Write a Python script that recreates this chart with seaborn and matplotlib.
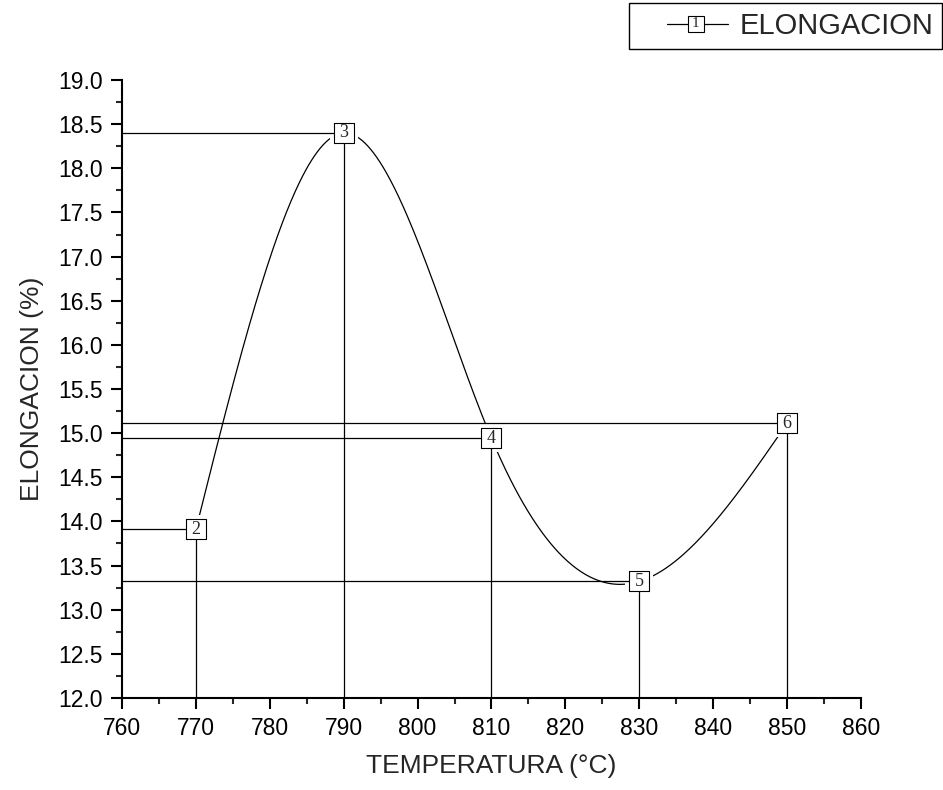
import numpy as np
import pandas as pd
import matplotlib
matplotlib.use('Agg')
import matplotlib.pyplot as plt
from matplotlib.lines import Line2D
from matplotlib.text import Text
from matplotlib.legend_handler import HandlerBase
from matplotlib.ticker import MultipleLocator, FormatStrFormatter
import seaborn as sns

# data
temperatura = [770, 790, 810, 830, 850]
elongacion = [13.91, 18.40, 14.94, 13.32, 15.11]
point_labels = ['2', '3', '4', '5', '6']
legend_label = 'ELONGACION'


def natural_spline(x, y, n=400):
    # natural cubic spline through the points (smooth connect line)
    x = np.asarray(x, float)
    y = np.asarray(y, float)
    k = len(x)
    h = np.diff(x)
    A = np.zeros((k, k))
    b = np.zeros(k)
    A[0, 0] = A[-1, -1] = 1
    for i in range(1, k - 1):
        A[i, i - 1] = h[i - 1]
        A[i, i] = 2 * (h[i - 1] + h[i])
        A[i, i + 1] = h[i]
        b[i] = 6 * ((y[i + 1] - y[i]) / h[i] - (y[i] - y[i - 1]) / h[i - 1])
    M = np.linalg.solve(A, b)
    xs = np.linspace(x[0], x[-1], n)
    idx = np.clip(np.searchsorted(x, xs) - 1, 0, k - 2)
    x0, x1 = x[idx], x[idx + 1]
    hh = x1 - x0
    t0, t1 = x1 - xs, xs - x0
    ys = (M[idx] * t0 ** 3 + M[idx + 1] * t1 ** 3) / (6 * hh) \
        + (y[idx] / hh - M[idx] * hh / 6) * t0 \
        + (y[idx + 1] / hh - M[idx + 1] * hh / 6) * t1
    return xs, ys


class NumberedSquare(HandlerBase):
    # line + square with a number, drawn in the right part of the handle box
    def create_artists(self, legend, orig_handle, xdescent, ydescent,
                       width, height, fontsize, trans):
        y = height / 2 - ydescent
        x0 = -xdescent + 0.32 * width
        x1 = width - xdescent
        xc = -xdescent + 0.64 * width
        line = Line2D([x0, x1], [y, y], color='black', lw=0.9)
        sq = Line2D([xc], [y], marker='s', markersize=11, markerfacecolor='white',
                    markeredgecolor='black', markeredgewidth=0.8, linestyle='none')
        txt = Text(xc, y, '1', ha='center', va='center', fontsize=11,
                   family='Liberation Serif')
        for a in (line, sq, txt):
            a.set_transform(trans)
        return [line, sq, txt]


sns.set_style('ticks')
plt.rcParams['font.family'] = ['Liberation Sans', 'DejaVu Sans']

df = pd.DataFrame({'TEMPERATURA': temperatura, 'ELONGACION': elongacion})
xs, ys = natural_spline(temperatura, elongacion)
curve = pd.DataFrame({'TEMPERATURA': xs, 'ELONGACION': ys})

fig = plt.figure(figsize=(9.43, 7.90), dpi=100)
ax = fig.add_axes([0.1294, 0.1165, 0.7836, 0.7822])

sns.lineplot(data=curve, x='TEMPERATURA', y='ELONGACION', color='black',
             linewidth=0.9, ax=ax, zorder=1)
# white halo so the curve stops short of the markers
sns.scatterplot(data=df, x='TEMPERATURA', y='ELONGACION', marker='s', s=420,
                color='white', linewidth=0, ax=ax, zorder=2)

# drop lines to both axes
ax.hlines(elongacion, 760, temperatura, color='black', linewidth=0.9, zorder=3)
ax.vlines(temperatura, 12, elongacion, color='black', linewidth=0.9, zorder=3)

sns.scatterplot(data=df, x='TEMPERATURA', y='ELONGACION', marker='s', s=215,
                color='white', edgecolor='black', linewidth=0.8, ax=ax, zorder=4)
for xv, yv, lab in zip(temperatura, elongacion, point_labels):
    ax.text(xv, yv, lab, ha='center', va='center', fontsize=13,
            family='Liberation Serif', zorder=5)

ax.set_xlim(760, 860)
ax.set_ylim(12.0, 19.0)
ax.xaxis.set_major_locator(MultipleLocator(10))
ax.xaxis.set_minor_locator(MultipleLocator(5))
ax.yaxis.set_major_locator(MultipleLocator(0.5))
ax.yaxis.set_minor_locator(MultipleLocator(0.25))
ax.yaxis.set_major_formatter(FormatStrFormatter('%.1f'))
ax.tick_params(which='major', direction='out', length=8, width=1.5, labelsize=16.5,
               colors='black', pad=6)
ax.tick_params(which='minor', direction='out', length=4, width=1.5)

sns.despine(ax=ax)
for side in ('left', 'bottom'):
    ax.spines[side].set_linewidth(1.5)
    ax.spines[side].set_color('black')

ax.set_xlabel('TEMPERATURA (°C)', fontsize=19, labelpad=10)
ax.set_ylabel('ELONGACION (%)', fontsize=19, labelpad=10)

handle = Line2D([], [], color='black')
leg = fig.legend([handle], [legend_label], handler_map={Line2D: NumberedSquare()},
                 loc='upper left', bbox_to_anchor=(0.667, 0.996), fontsize=21,
                 frameon=True, fancybox=False, edgecolor='black', framealpha=1,
                 handlelength=3.1, handletextpad=0.4, borderpad=0.3,
                 borderaxespad=0)
leg.get_frame().set_linewidth(1.0)

fig.savefig('out.png', dpi=100)
